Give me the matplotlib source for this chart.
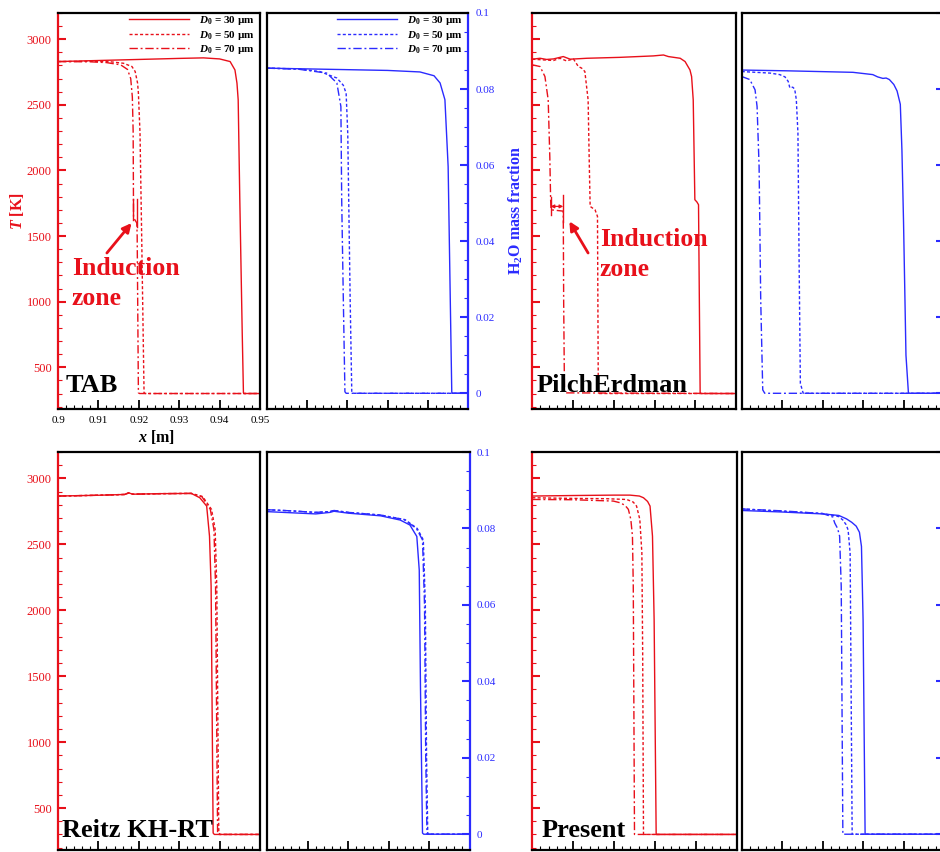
import matplotlib
matplotlib.use('Agg')
import matplotlib.pyplot as plt
from matplotlib.ticker import FixedLocator, MultipleLocator, FuncFormatter

RED = '#e8101a'
BLUE = '#2b2bff'
plt.rcParams['font.family'] = ['Liberation Serif', 'DejaVu Serif']
plt.rcParams['mathtext.fontset'] = 'custom'
plt.rcParams['mathtext.rm'] = 'Liberation Serif:bold'
plt.rcParams['mathtext.it'] = 'Liberation Serif:italic:bold'
plt.rcParams['mathtext.bf'] = 'Liberation Serif:bold'

# ---------------- data ----------------
series_labels = ['$D_0$ = 30 µm', '$D_0$ = 50 µm', '$D_0$ = 70 µm']
x_ticks = [0.90, 0.91, 0.92, 0.93, 0.94, 0.95]
T_ticks = [500, 1000, 1500, 2000, 2500, 3000]
Y_ticks = [0.0, 0.02, 0.04, 0.06, 0.08, 0.1]
panel_names = ['TAB', 'PilchErdman', 'Reitz KH-RT', 'Present']

# TAB
tab_T30_x = [0.900, 0.910, 0.920, 0.930, 0.936, 0.940, 0.9426, 0.9438, 0.9443, 0.9446, 0.9450, 0.9456, 0.9459, 0.9461, 0.950]
tab_T30_y = [2830, 2838, 2846, 2854, 2858, 2850, 2830, 2766, 2665, 2538, 1777, 762, 305, 300, 300]
tab_T50_x = [0.900, 0.908, 0.913, 0.9162, 0.9183, 0.9191, 0.9197, 0.9199, 0.9203, 0.9207, 0.9213, 0.9216, 0.950]
tab_T50_y = [2830, 2832, 2828, 2817, 2792, 2754, 2665, 2589, 2284, 1523, 305, 300, 300]
tab_T70_x = [0.900, 0.908, 0.912, 0.9155, 0.9172, 0.9180, 0.9184, 0.9186, 0.9187, 0.9195, 0.9196, 0.9199, 0.9202, 0.950]
tab_T70_y = [2830, 2828, 2822, 2805, 2770, 2700, 2560, 2300, 1640, 1600, 1500, 305, 300, 300]
tab_Y30_x = [0.900, 0.910, 0.920, 0.930, 0.938, 0.9415, 0.9430, 0.9442, 0.9450, 0.9456, 0.9459, 0.9461, 0.950]
tab_Y30_y = [0.0855, 0.0853, 0.0851, 0.0849, 0.0845, 0.0835, 0.0816, 0.0772, 0.0596, 0.0200, 0.0003, 0.0, 0.0]
tab_Y50_x = [0.900, 0.908, 0.9132, 0.9174, 0.9190, 0.9197, 0.9201, 0.9207, 0.9211, 0.9214, 0.950]
tab_Y50_y = [0.0855, 0.0853, 0.0846, 0.0829, 0.0810, 0.0789, 0.0684, 0.0246, 0.0003, 0.0, 0.0]
tab_Y70_x = [0.900, 0.908, 0.9149, 0.9174, 0.9184, 0.9186, 0.9190, 0.9194, 0.9197, 0.950]
tab_Y70_y = [0.0855, 0.0852, 0.0842, 0.0816, 0.0754, 0.0509, 0.0250, 0.0004, 0.0, 0.0]
tab_mark_x = [0.9186, 0.9195]
tab_mark_lo = [1620, 1570]
tab_mark_hi = [1785, 1785]

# PilchErdman
pe_T30_x = [0.900, 0.9019, 0.9035, 0.9052, 0.9076, 0.9093, 0.9134, 0.9215, 0.9297, 0.9322, 0.9334, 0.9363, 0.9375,
            0.9387, 0.9391, 0.9395, 0.9399, 0.9404, 0.9408, 0.9412, 0.9415, 0.950]
pe_T30_y = [2848, 2855, 2846, 2850, 2868, 2848, 2855, 2862, 2873, 2880, 2868, 2855, 2830,
            2766, 2716, 2538, 1777, 1760, 1739, 305, 300, 300]
pe_T50_x = [0.900, 0.9030, 0.9052, 0.9068, 0.9084, 0.9101, 0.9113, 0.9121, 0.9129, 0.9137, 0.9140, 0.9142, 0.9154,
            0.9160, 0.9162, 0.9165, 0.950]
pe_T50_y = [2848, 2842, 2838, 2855, 2835, 2850, 2792, 2780, 2754, 2538, 2030, 1726, 1700, 1650, 305, 300, 300]
pe_T70_x = [0.900, 0.9019, 0.9031, 0.9039, 0.9043, 0.9045, 0.9046, 0.9076, 0.9077, 0.9079, 0.950]
pe_T70_y = [2805, 2792, 2716, 2538, 2100, 1777, 1700, 1690, 1000, 305, 300]
pe_Y30_x = [0.900, 0.9111, 0.9193, 0.9275, 0.9324, 0.9336, 0.9349, 0.9357, 0.9365, 0.9376, 0.9384, 0.9392, 0.9396,
            0.9400, 0.9406, 0.9412, 0.9415, 0.950]
pe_Y30_y = [0.0850, 0.0848, 0.0846, 0.0844, 0.0838, 0.0832, 0.0828, 0.0829, 0.0825, 0.0812, 0.0795, 0.0760, 0.0640,
            0.0450, 0.0100, 0.0002, 0.0, 0.0]
pe_Y50_x = [0.900, 0.9070, 0.9094, 0.9107, 0.9115, 0.9119, 0.9126, 0.9131, 0.9135, 0.9139, 0.9142, 0.9145, 0.9152, 0.950]
pe_Y50_y = [0.0846, 0.0842, 0.0838, 0.0832, 0.0820, 0.0803, 0.0805, 0.0800, 0.0772, 0.0684, 0.0333, 0.0026, 0.0, 0.0]
pe_Y70_x = [0.900, 0.9020, 0.9033, 0.9038, 0.9043, 0.9047, 0.9052, 0.9057, 0.950]
pe_Y70_y = [0.0833, 0.0825, 0.0798, 0.0754, 0.0596, 0.0246, 0.0009, 0.0, 0.0]
pe_mark_x = [0.9045, 0.9076]
pe_mark_lo = [1660, 1610]
pe_mark_hi = [1800, 1810]
pe_mark_T = 1726

# Reitz KH-RT
rk_T30_x = [0.900, 0.910, 0.9165, 0.9175, 0.9185, 0.925, 0.933, 0.9351, 0.9368, 0.9375, 0.9379, 0.9384, 0.9387, 0.950]
rk_T30_y = [2866, 2872, 2878, 2890, 2880, 2884, 2886, 2853, 2790, 2562, 2183, 311, 300, 300]
rk_T50_x = [0.900, 0.910, 0.9165, 0.9175, 0.9185, 0.925, 0.933, 0.9358, 0.9380, 0.9389, 0.9393, 0.9398, 0.9401, 0.950]
rk_T50_y = [2866, 2872, 2878, 2890, 2880, 2884, 2886, 2862, 2765, 2613, 2183, 311, 300, 300]
rk_T70_x = [0.900, 0.910, 0.9165, 0.9175, 0.9185, 0.925, 0.933, 0.9356, 0.9377, 0.9386, 0.9390, 0.9395, 0.9398, 0.950]
rk_T70_y = [2866, 2872, 2878, 2890, 2880, 2884, 2886, 2862, 2765, 2613, 2183, 311, 300, 300]
rk_Y30_x = [0.900, 0.906, 0.912, 0.9155, 0.9165, 0.920, 0.928, 0.9328, 0.9352, 0.9369, 0.9375, 0.9378, 0.9383, 0.9386, 0.950]
rk_Y30_y = [0.0844, 0.0841, 0.0838, 0.0842, 0.0845, 0.0840, 0.0833, 0.0822, 0.0809, 0.0779, 0.0691, 0.0385, 0.0003, 0.0, 0.0]
rk_Y50_x = [0.900, 0.906, 0.912, 0.9155, 0.9165, 0.920, 0.928, 0.9340, 0.9370, 0.9385, 0.9390, 0.9393, 0.9396, 0.950]
rk_Y50_y = [0.0849, 0.0846, 0.0842, 0.0844, 0.0847, 0.0842, 0.0835, 0.0823, 0.0800, 0.0770, 0.0600, 0.0200, 0.0, 0.0]
rk_Y70_x = [0.900, 0.906, 0.912, 0.9155, 0.9165, 0.920, 0.928, 0.9338, 0.9368, 0.9383, 0.9388, 0.9391, 0.9394, 0.950]
rk_Y70_y = [0.0849, 0.0846, 0.0842, 0.0844, 0.0847, 0.0842, 0.0835, 0.0823, 0.0800, 0.0770, 0.0600, 0.0200, 0.0, 0.0]

# Present
pr_T30_x = [0.900, 0.910, 0.920, 0.9239, 0.9262, 0.9272, 0.9282, 0.9288, 0.9294, 0.9298, 0.9303, 0.9306, 0.950]
pr_T30_y = [2866, 2870, 2873, 2873, 2866, 2853, 2825, 2790, 2562, 1930, 300, 300, 300]
pr_T50_x = [0.900, 0.910, 0.918, 0.9231, 0.9247, 0.9255, 0.9263, 0.9268, 0.9270, 0.9272, 0.950]
pr_T50_y = [2853, 2848, 2846, 2840, 2820, 2790, 2689, 2436, 1677, 300, 300]
pr_T70_x = [0.900, 0.910, 0.9198, 0.9215, 0.9227, 0.9235, 0.9241, 0.9245, 0.9247, 0.9250, 0.950]
pr_T70_y = [2840, 2838, 2828, 2815, 2795, 2765, 2689, 2562, 2183, 300, 300]
pr_Y30_x = [0.900, 0.910, 0.920, 0.9240, 0.9259, 0.9272, 0.9283, 0.9291, 0.9296, 0.9300, 0.9305, 0.9308, 0.950]
pr_Y30_y = [0.0847, 0.0843, 0.0838, 0.0834, 0.0825, 0.0816, 0.0806, 0.0790, 0.0753, 0.0561, 0.0, 0.0, 0.0]
pr_Y50_x = [0.900, 0.910, 0.920, 0.9240, 0.9250, 0.9258, 0.9263, 0.9268, 0.9273, 0.9276, 0.950]
pr_Y50_y = [0.0851, 0.0845, 0.0839, 0.0831, 0.0822, 0.0810, 0.0796, 0.0735, 0.0, 0.0, 0.0]
pr_Y70_x = [0.900, 0.910, 0.920, 0.9225, 0.9230, 0.9237, 0.9242, 0.9246, 0.9250, 0.9253, 0.950]
pr_Y70_y = [0.0851, 0.0846, 0.0839, 0.0830, 0.0814, 0.0800, 0.0780, 0.0648, 0.0, 0.0, 0.0]

# ---------------- figure ----------------
W, H = 940, 852
fig = plt.figure(figsize=(W / 100, H / 100), dpi=100)

def add(l, t, r, b):
    return fig.add_axes([l / W, 1 - b / H, (r - l) / W, (b - t) / H])

styles = ['-', (0, (2.2, 1.6)), (0, (6, 2, 1.4, 2))]
LW = 1.0
fmt = FuncFormatter(lambda v, p: '%g' % round(v, 4))

def common_x(ax, xlabels):
    ax.set_xlim(0.9, 0.95)
    ax.xaxis.set_major_locator(FixedLocator(x_ticks))
    ax.xaxis.set_minor_locator(MultipleLocator(0.002))
    ax.xaxis.set_major_formatter(fmt)
    ax.tick_params(axis='x', which='both', direction='in', color='black', bottom=True, top=False,
                   labelbottom=xlabels, labelsize=8, pad=5)
    ax.tick_params(axis='x', which='major', length=6.5, width=1.3)
    ax.tick_params(axis='x', which='minor', length=3.2, width=0.8)
    for s in ax.spines.values():
        s.set_linewidth(1.6)
        s.set_color('black')

def style_T(ax, ylabels, xlabels):
    common_x(ax, xlabels)
    ax.set_ylim(182, 3200)
    ax.spines['left'].set_color(RED)
    ax.yaxis.set_major_locator(FixedLocator(T_ticks))
    ax.yaxis.set_minor_locator(MultipleLocator(100))
    ax.tick_params(axis='y', which='both', direction='in', colors=RED, left=True, right=False,
                   labelleft=ylabels, labelsize=9, pad=4.5)
    ax.tick_params(axis='y', which='major', length=6, width=1.5)
    ax.tick_params(axis='y', which='minor', length=3.2, width=0.8)

def style_Y(ax, ylabels):
    common_x(ax, False)
    ax.set_ylim(-0.00413, 0.1)
    ax.yaxis.tick_right()
    ax.spines['right'].set_color(BLUE)
    ax.yaxis.set_major_locator(FixedLocator(Y_ticks))
    ax.yaxis.set_minor_locator(MultipleLocator(0.005))
    ax.yaxis.set_major_formatter(fmt)
    ax.tick_params(axis='y', which='both', direction='in', colors=BLUE, left=False, right=True,
                   labelright=ylabels, labelleft=False, labelsize=8, pad=5)
    ax.tick_params(axis='y', which='major', length=6, width=1.5)
    ax.tick_params(axis='y', which='minor', length=3.2, width=0.8)

def draw(ax, xs, ys, color):
    for x, y, ls, lab in zip(xs, ys, styles, series_labels):
        ax.plot(x, y, color=color, lw=LW, linestyle=ls, label=lab)

def legend(ax):
    ax.legend(loc='upper right', bbox_to_anchor=(0.99, 1.005), frameon=False,
              prop={'family': 'Liberation Serif', 'weight': 'bold', 'size': 8},
              handlelength=5.4, handletextpad=0.9, labelspacing=0.12, borderpad=0.2,
              borderaxespad=0.1)

def panel_label(ax, name, x, y):
    ax.text(x, y, name, transform=ax.transAxes, fontsize=19, fontweight='bold',
            color='black', ha='left', va='baseline', family='Liberation Serif')

def induction_text(ax, x, y1, y2):
    for yy, s in ((y1, 'Induction'), (y2, 'zone')):
        ax.text(x, yy, s, color=RED, fontsize=18.5, fontweight='bold', ha='left', va='baseline',
                family='Liberation Serif')

arrow_kw = dict(arrowstyle='-|>', color=RED, lw=2.0, mutation_scale=13, shrinkA=0, shrinkB=0)

# ---- top-left: TAB ----
axT = add(58, 13, 260, 409)
style_T(axT, True, True)
draw(axT, [tab_T30_x, tab_T50_x, tab_T70_x], [tab_T30_y, tab_T50_y, tab_T70_y], RED)
legend(axT)
for mx, lo, hi in zip(tab_mark_x, tab_mark_lo, tab_mark_hi):
    axT.plot([mx, mx], [lo, hi], color=RED, lw=1.0)
axT.annotate('', xy=(0.9182, 1599), xytext=(0.9121, 1371), arrowprops=arrow_kw)
induction_text(axT, 0.9034, 1206, 977)
panel_label(axT, panel_names[0], 0.035, 0.043)
axT.set_ylabel('$T$ [K]', color=RED, fontsize=11.5, fontweight='bold')
axT.yaxis.set_label_coords(-0.158, 0.5)
axT.set_xlabel('$x$ [m]', color='black', fontsize=11.5, fontweight='bold')
axT.xaxis.set_label_coords(0.49, -0.048)

axY = add(266.7, 13, 468.3, 409)
style_Y(axY, True)
draw(axY, [tab_Y30_x, tab_Y50_x, tab_Y70_x], [tab_Y30_y, tab_Y50_y, tab_Y70_y], BLUE)
legend(axY)
axY.yaxis.set_label_position('right')
axY.set_ylabel('H$_2$O mass fraction', color=BLUE, fontsize=11.5, fontweight='bold', rotation=90)
axY.yaxis.set_label_coords(1.19, 0.5)

# ---- top-right: PilchErdman ----
axT = add(532.3, 13, 736, 409)
style_T(axT, False, False)
draw(axT, [pe_T30_x, pe_T50_x, pe_T70_x], [pe_T30_y, pe_T50_y, pe_T70_y], RED)
for mx, lo, hi in zip(pe_mark_x, pe_mark_lo, pe_mark_hi):
    axT.plot([mx, mx], [lo, hi], color=RED, lw=1.0)
axT.annotate('', xy=(pe_mark_x[0], pe_mark_T), xytext=(pe_mark_x[1], pe_mark_T),
             arrowprops=dict(arrowstyle='<|-|>', color=RED, lw=0.9, mutation_scale=5, shrinkA=0, shrinkB=0))
axT.annotate('', xy=(0.9091, 1612), xytext=(0.9137, 1371), arrowprops=arrow_kw)
induction_text(axT, 0.9166, 1421, 1193)
panel_label(axT, panel_names[1], 0.023, 0.043)

axY = add(741.7, 13, 944, 409)
style_Y(axY, False)
draw(axY, [pe_Y30_x, pe_Y50_x, pe_Y70_x], [pe_Y30_y, pe_Y50_y, pe_Y70_y], BLUE)

# ---- bottom-left: Reitz KH-RT ----
axT = add(58, 452, 260, 850)
style_T(axT, True, False)
draw(axT, [rk_T30_x, rk_T50_x, rk_T70_x], [rk_T30_y, rk_T50_y, rk_T70_y], RED)
panel_label(axT, panel_names[2], 0.02, 0.033)

axY = add(267, 452, 470, 850)
style_Y(axY, True)
draw(axY, [rk_Y30_x, rk_Y50_x, rk_Y70_x], [rk_Y30_y, rk_Y50_y, rk_Y70_y], BLUE)

# ---- bottom-right: Present ----
axT = add(532.3, 452, 736.7, 850)
style_T(axT, False, False)
draw(axT, [pr_T30_x, pr_T50_x, pr_T70_x], [pr_T30_y, pr_T50_y, pr_T70_y], RED)
panel_label(axT, panel_names[3], 0.046, 0.033)

axY = add(741.7, 452, 944, 850)
style_Y(axY, False)
draw(axY, [pr_Y30_x, pr_Y50_x, pr_Y70_x], [pr_Y30_y, pr_Y50_y, pr_Y70_y], BLUE)

fig.savefig('out.png', dpi=100)
